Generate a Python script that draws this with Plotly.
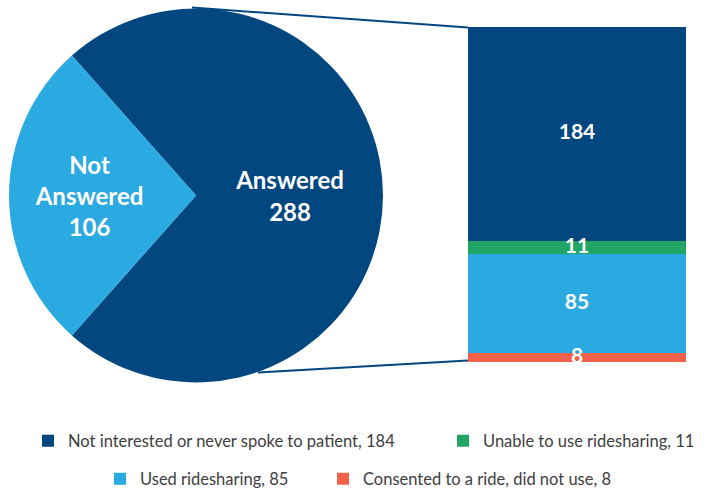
import plotly.graph_objects as go
import numpy as np

# ---- data ----
pie_labels = ["Answered", "Not Answered"]
pie_values = [288, 106]
pie_colors = ["#034781", "#2AAAE1"]

bar_labels = ["Consented to a ride, did not use", "Used ridesharing",
              "Unable to use ridesharing", "Not interested or never spoke to patient"]
bar_values = [8, 85, 11, 184]
bar_colors = ["#F2624A", "#2AAAE1", "#21A565", "#034781"]
legend_ids = ["legend4", "legend3", "legend2", "legend"]

W, H = 713, 490
def px(x): return x / W
def py(y): return 1 - y / H

fig = go.Figure()

half = 360 * pie_values[1] / sum(pie_values) / 2
fig.add_trace(go.Pie(
    labels=pie_labels, values=pie_values, sort=False, direction="clockwise",
    rotation=-(90 - half),
    marker=dict(colors=pie_colors, line=dict(width=0)),
    texttemplate=["%{label}<br>%{value}", "Not<br>Answered<br>%{value}"],
    textposition="inside", insidetextorientation="horizontal",
    textfont=dict(family="Lato", size=24, color="white", weight="bold"),
    domain=dict(x=[px(9), px(383)], y=[py(383), py(8)]),
    showlegend=False, hoverinfo="label+value",
))

for lab, v, c, lg in zip(bar_labels, bar_values, bar_colors, legend_ids):
    fig.add_trace(go.Bar(
        x=[0], y=[v], name=f"{lab}, {v}", marker=dict(color=c, line=dict(width=0)),
        width=1, xaxis="x", yaxis="y", legend=lg, textposition="none",
    ))

# value labels drawn on top of all bar segments
mids = np.cumsum(bar_values) - np.array(bar_values) / 2
fig.add_trace(go.Scatter(
    x=[0] * len(bar_values), y=mids, mode="text", text=[str(v) for v in bar_values],
    textfont=dict(family="Lato", size=21, color="white", weight="bold"),
    cliponaxis=False, showlegend=False, hoverinfo="skip", xaxis="x", yaxis="y",
))

legend_font = dict(family="Lato", size=16.5, color="#404040")
def leg(xleft, yc):
    return dict(orientation="h", x=px(xleft), xanchor="left", y=py(yc), yanchor="middle",
                font=legend_font, bgcolor="rgba(0,0,0,0)")

fig.update_layout(
    width=W, height=H, margin=dict(l=0, r=0, t=0, b=0, autoexpand=False),
    paper_bgcolor="white", plot_bgcolor="white",
    barmode="stack", bargap=0,
    xaxis=dict(domain=[px(468), px(686)], range=[-0.5, 0.5], visible=False, fixedrange=True),
    yaxis=dict(domain=[py(362), py(27)], range=[0, sum(bar_values)], visible=False, fixedrange=True),
    legend=leg(28, 441),
    legend2=leg(443, 441),
    legend3=leg(100, 479),
    legend4=leg(323, 479),
    shapes=[
        dict(type="line", xref="paper", yref="paper", x0=px(192), y0=py(7.5), x1=px(468), y1=py(27.5),
             line=dict(color="#034781", width=2)),
        dict(type="line", xref="paper", yref="paper", x0=px(258), y0=py(372.5), x1=px(468), y1=py(360.5),
             line=dict(color="#034781", width=2)),
    ],
)

fig.write_html("out.html", config={"displayModeBar": False},
               post_script="document.body.style.margin='0';")
